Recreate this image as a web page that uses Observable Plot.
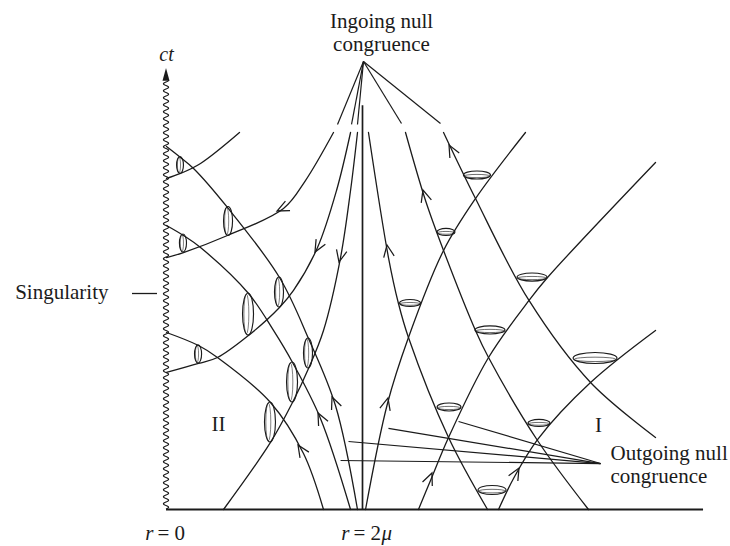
<!DOCTYPE html>
<html><head><meta charset="utf-8">
<script src="https://cdn.jsdelivr.net/npm/d3@7"></script>
<script src="https://cdn.jsdelivr.net/npm/@observablehq/plot@0.6"></script>
<style>body{margin:0;background:#fff}#chart svg{display:block}</style>
</head><body><div id="chart"></div>
<script>
// Units: r and ct in units of mu (horizon r = 2mu).
// Region II null curves (r < 2mu)
const i1 = [[0.0,3.378],[0.143,3.429],[0.347,3.531],[0.745,3.847]];
const i2 = [[0.0,2.571],[0.173,2.622],[0.622,2.796],[1.194,3.071],[1.418,3.357],[1.704,3.847]];
const i3 = [[0.0,1.398],[0.327,1.490],[0.520,1.551],[0.837,1.776],[1.153,2.061],[1.296,2.235],[1.541,2.673],[1.735,3.255],[1.878,3.847]];
const i4 = [[0.582,0],[1.061,0.684],[1.286,1.092],[1.449,1.439],[1.602,1.827],[1.776,2.571],[1.878,3.255],[1.949,3.847]];
const o1 = [[0.0,3.704],[0.143,3.592],[0.276,3.480],[0.622,3.082],[1.153,2.367],[1.449,1.745],[1.724,1.061],[1.949,0]];
const o2 = [[0.0,2.898],[0.173,2.796],[0.347,2.673],[0.837,2.204],[1.092,1.827],[1.286,1.500],[1.571,0.929],[1.878,0]];
const o3 = [[0.0,1.806],[0.327,1.673],[0.520,1.551],[1.061,1.092],[1.398,0.571],[1.602,0]];
// Region I null curves (r > 2mu)
const o4 = [[2.031,0],[2.255,1.082],[2.469,1.755],[2.827,2.643],[3.153,3.173],[3.663,3.847]];
const i5 = [[2.061,3.847],[2.265,2.571],[2.367,2.102],[2.469,1.755],[2.878,0.735],[3.276,0]];
const o5 = [[2.571,0],[2.694,0.296],[2.878,0.735],[3.286,1.551],[3.699,2.133],[3.888,2.367],[4.990,3.541]];
const i6 = [[2.439,3.847],[2.643,3.153],[2.827,2.643],[3.153,1.827],[3.286,1.551],[3.786,0.704],[4.306,0]];
const o6 = [[3.388,0],[3.541,0.316],[3.786,0.714],[4.327,1.296],[4.990,1.827]];
const i7 = [[2.827,3.847],[3.153,3.173],[3.699,2.133],[4.327,1.296],[4.990,0.735]];

// Light-cone rims [r, ct, half-width, half-height]
const conesRegionI = [[3.173,3.408,0.138,0.041],[2.857,2.827,0.092,0.036],[3.735,2.367,0.153,0.041],[2.490,2.102,0.107,0.036],[3.306,1.827,0.153,0.041],[4.378,1.541,0.224,0.056],[2.888,1.041,0.122,0.041],[3.806,0.878,0.112,0.036],[3.327,0.194,0.143,0.046]];
const conesRegionII = [[0.143,3.510,0.035,0.087],[0.633,2.939,0.046,0.148],[0.173,2.714,0.036,0.092],[1.153,2.214,0.046,0.153],[0.837,1.990,0.056,0.214],[0.327,1.582,0.036,0.092],[1.449,1.592,0.046,0.153],[1.286,1.296,0.056,0.204],[1.061,0.888,0.056,0.204]];

// Arrowheads [r, ct, direction dr, direction dct]
const arrows = [[1.133,3.041,-56,-27],[1.520,2.622,-24,-43],[1.765,2.520,-17,-73],[1.347,0.653,-33,51],[1.551,0.980,-28,56],[1.694,1.143,-27,67],
  [2.255,2.694,-1,6],[2.622,3.255,-20,68],[2.888,3.714,-1,1.9],[2.265,1.133,1,3.9],[2.714,0.367,1,2.4],[3.602,0.418,1,1.8]];

// Label leader lines
const ingoingApex = [2.010,4.571];
const ingoingEnds = [[1.745,3.929],[1.888,3.929],[1.949,3.929],[2.398,3.939],[2.796,3.939]];
const outgoingPoint = [4.429,0.469];
const outgoingStarts = [[2.980,0.898],[2.265,0.827],[1.857,0.694],[1.776,0.500]];

const axisEnd = 5.48, horizonTop = 4.12, singularityTop = 4.38, ctArrowTip = 4.5;

const INK = "#1b1b1b";
const FONT = "Liberation Serif";

const curves = {i1,i2,i3,i4,o1,o2,o3,o4,i5,o5,i6,o6,i7};
const rows = Object.entries(curves).flatMap(([id, pts]) => pts.map(([r, ct]) => ({id, r, ct})));

function rimMark(data, horizontal) {
  return (index, scales) => {
    const {x, y} = scales;
    const kx = x(1) - x(0), ky = y(0) - y(1);
    const g = d3.create("svg:g").attr("fill", "none").attr("stroke", INK);
    for (const [r, ct, rx, ry] of data) {
      const cx = x(r), cy = y(ct), ax = rx * kx, ay = ry * ky;
      g.append("ellipse").attr("cx", cx).attr("cy", cy).attr("rx", ax).attr("ry", ay).attr("stroke-width", 1.15);
      if (horizontal) g.append("ellipse").attr("cx", cx).attr("cy", cy + ay * 0.25).attr("rx", ax * 0.95).attr("ry", ay * 0.4).attr("stroke-width", 0.8).attr("stroke-opacity", 0.8);
      else g.append("ellipse").attr("cx", cx - ax * 0.3).attr("cy", cy).attr("rx", ax * 0.45).attr("ry", ay * 0.95).attr("stroke-width", 0.8).attr("stroke-opacity", 0.7);
    }
    return g.node();
  };
}

function chevronMark(data) {
  return (index, scales) => {
    const {x, y} = scales;
    const g = d3.create("svg:g").attr("fill", "none").attr("stroke", INK).attr("stroke-width", 1.25);
    const L = 13, h = 24 * Math.PI / 180;
    for (const [r, ct, dr, dct] of data) {
      const tx = x(r), ty = y(ct);
      const back = Math.atan2(-dct, dr) + Math.PI;
      const p1 = [tx + L * Math.cos(back - h), ty + L * Math.sin(back - h)];
      const p2 = [tx + L * Math.cos(back + h), ty + L * Math.sin(back + h)];
      g.append("path").attr("d", `M${p1[0]},${p1[1]}L${tx},${ty}L${p2[0]},${p2[1]}`);
    }
    return g.node();
  };
}

function singularityMark() {
  return (index, scales) => {
    const {x, y} = scales;
    const x0 = x(0), yb = y(0), yt = y(singularityTop), ytip = y(ctArrowTip);
    let d = `M${x0},${yb}`;
    for (let t = yb; t >= yt; t -= 0.5) d += `L${(x0 + 2.6 * Math.sin((yb - t) / 7 * 2 * Math.PI)).toFixed(2)},${t.toFixed(2)}`;
    const g = d3.create("svg:g");
    g.append("path").attr("d", d).attr("fill", "none").attr("stroke", INK).attr("stroke-width", 1.15);
    g.append("path").attr("d", `M${x0 - 3.5},${yt + 1}L${x0},${ytip}L${x0 + 3.5},${yt + 1}Z`).attr("fill", INK);
    return g.node();
  };
}

const chart = Plot.plot({
  width: 730, height: 546,
  marginLeft: 166, marginRight: 25, marginTop: 68, marginBottom: 37,
  x: {domain: [0, 5.5], axis: null},
  y: {domain: [0, 4.5], axis: null},
  style: {background: "white", fontFamily: FONT, color: INK},
  marks: [
    Plot.ruleY([{y: 0, x1: 0, x2: axisEnd}], {y: "y", x1: "x1", x2: "x2", stroke: INK, strokeWidth: 1.8}),
    Plot.ruleX([{x: 2, y1: 0, y2: horizonTop}], {x: "x", y1: "y1", y2: "y2", stroke: INK, strokeWidth: 1.7}),
    singularityMark(),
    Plot.line(rows, {x: "r", y: "ct", z: "id", curve: "catmull-rom", stroke: INK, strokeWidth: 1.3}),
    rimMark(conesRegionI, true),
    rimMark(conesRegionII, false),
    chevronMark(arrows),
    Plot.link(ingoingEnds, {x1: () => ingoingApex[0], y1: () => ingoingApex[1], x2: d => d[0], y2: d => d[1], stroke: INK, strokeWidth: 1.2}),
    Plot.link(outgoingStarts, {x1: d => d[0], y1: d => d[1], x2: () => outgoingPoint[0], y2: () => outgoingPoint[1], stroke: INK, strokeWidth: 1.2}),
    Plot.ruleY([{y: 2.204, x1: -0.347, x2: -0.092}], {y: "y", x1: "x1", x2: "x2", stroke: INK, strokeWidth: 1.3}),
    Plot.text([{r: 2.194, ct: 4.867, t: "Ingoing null\ncongruence"}], {x: "r", y: "ct", text: "t", fontSize: 21, lineHeight: 1.1, textAnchor: "middle", fill: INK}),
    Plot.text([{r: 4.531, ct: 0.459, t: "Outgoing null\ncongruence"}], {x: "r", y: "ct", text: "t", fontSize: 21, lineHeight: 1.1, textAnchor: "start", fill: INK}),
    Plot.text([{r: -0.592, ct: 2.214, t: "Singularity"}], {x: "r", y: "ct", text: "t", fontSize: 21, textAnchor: "end", fill: INK}),
    Plot.text([{r: 0.531, ct: 0.867, t: "II"}, {r: 4.408, ct: 0.857, t: "I"}], {x: "r", y: "ct", text: "t", fontSize: 21, fill: INK}),
    Plot.text([{r: 0, ct: 4.643, t: "ct"}], {x: "r", y: "ct", text: "t", fontSize: 20, fontStyle: "italic", fill: INK}),
    Plot.text([{r: 0, ct: -0.245, t: "r"}, {r: 2, ct: -0.245, t: "r"}], {x: "r", y: "ct", text: "t", fontSize: 21, fontStyle: "italic", textAnchor: "end", dx: -13, fill: INK}),
    Plot.text([{r: 0, ct: -0.245, t: "= 0"}, {r: 2, ct: -0.245, t: "= 2"}], {x: "r", y: "ct", text: "t", fontSize: 21, textAnchor: "start", dx: -9, fill: INK}),
    Plot.text([{r: 2, ct: -0.245, t: "μ"}], {x: "r", y: "ct", text: "t", fontSize: 21, fontStyle: "italic", textAnchor: "start", dx: 19, fill: INK})
  ]
});
document.getElementById("chart").appendChild(chart);
</script>
</body></html>
